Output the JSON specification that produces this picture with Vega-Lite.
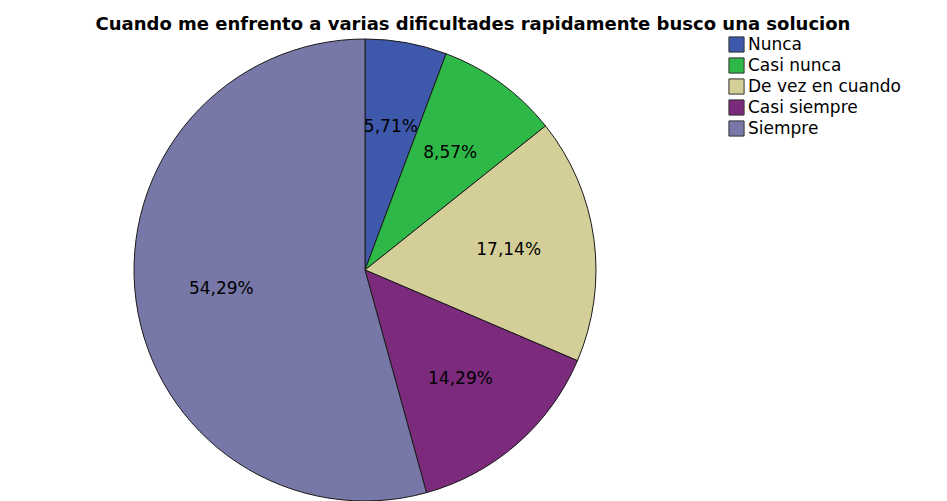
{
  "$schema": "https://vega.github.io/schema/vega-lite/v6.json",
  "autosize": "none",
  "width": 730,
  "height": 460,
  "padding": {"left": 0, "top": 40, "right": 217, "bottom": 1},
  "background": "white",
  "title": {
    "text": "Cuando me enfrento a varias dificultades rapidamente busco una solucion",
    "anchor": "middle",
    "dx": 108,
    "offset": 2,
    "font": "DejaVu Sans",
    "fontSize": 18,
    "fontWeight": "bold",
    "color": "black"
  },
  "data": {
    "values": [
      {"categoria": "Nunca", "orden": 1, "porcentaje": 5.71, "etiqueta": "5,71%"},
      {"categoria": "Casi nunca", "orden": 2, "porcentaje": 8.57, "etiqueta": "8,57%"},
      {"categoria": "De vez en cuando", "orden": 3, "porcentaje": 17.14, "etiqueta": "17,14%"},
      {"categoria": "Casi siempre", "orden": 4, "porcentaje": 14.29, "etiqueta": "14,29%"},
      {"categoria": "Siempre", "orden": 5, "porcentaje": 54.29, "etiqueta": "54,29%"}
    ]
  },
  "encoding": {
    "theta": {"field": "porcentaje", "type": "quantitative", "stack": true},
    "order": {"field": "orden", "type": "quantitative"}
  },
  "layer": [
    {
      "mark": {"type": "arc", "outerRadius": 231, "stroke": "#1a1a1a", "strokeWidth": 1},
      "encoding": {
        "color": {
          "field": "categoria",
          "type": "nominal",
          "sort": ["Nunca", "Casi nunca", "De vez en cuando", "Casi siempre", "Siempre"],
          "scale": {
            "domain": ["Nunca", "Casi nunca", "De vez en cuando", "Casi siempre", "Siempre"],
            "range": ["#3e58ac", "#2eb848", "#d4cf98", "#7c2a7c", "#7878a8"]
          },
          "legend": {
            "title": null,
            "orient": "none",
            "legendX": 728,
            "legendY": -4,
            "symbolType": "square",
            "symbolSize": 230,
            "symbolStrokeColor": "#333333",
            "symbolStrokeWidth": 1,
            "symbolOpacity": 1,
            "labelFont": "DejaVu Sans",
            "labelFontSize": 17,
            "labelColor": "black",
            "labelOffset": 3,
            "rowPadding": 0
          }
        }
      }
    },
    {
      "mark": {"type": "text", "radius": 145, "font": "DejaVu Sans", "fontSize": 17, "color": "black"},
      "encoding": {"text": {"field": "etiqueta", "type": "nominal"}}
    }
  ]
}
